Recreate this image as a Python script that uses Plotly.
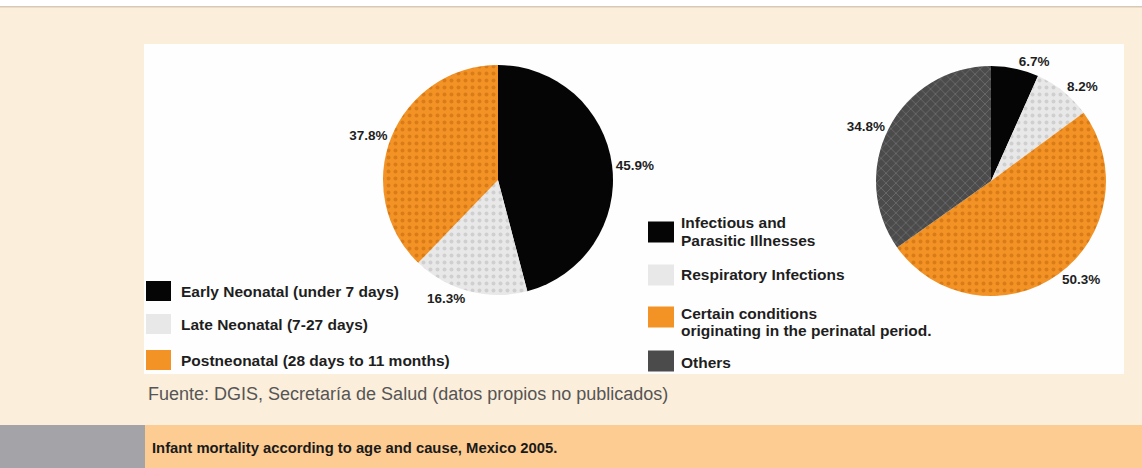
import plotly.graph_objects as go

W, H = 1142, 468

# ---------------- data ----------------
age_labels = ["Early Neonatal (under 7 days)", "Late Neonatal (7-27 days)",
              "Postneonatal (28 days to 11 months)"]
age_values = [45.9, 16.3, 37.8]

cause_labels = ["Infectious and<br>Parasitic Illnesses", "Respiratory Infections",
                "Certain conditions<br>originating in the perinatal period.", "Others"]
cause_values = [6.7, 8.2, 50.3, 34.8]

title_text = "Infant mortality according to age and cause, Mexico 2005."
source_text = "Fuente: DGIS, Secretaría de Salud (datos propios no publicados)"

# ---------------- styles ----------------
BLACK = "#050505"
LIGHT = "#E8E8E8"
ORANGE = "#F39325"
DARK = "#4B4B4B"

age_colors = [BLACK, LIGHT, ORANGE]
age_fg = [BLACK, "#CFCFCF", "#D97C17"]
age_shape = ["", ".", "."]

cause_colors = [BLACK, LIGHT, ORANGE, DARK]
cause_fg = [BLACK, "#CFCFCF", "#D97C17", "#6A6A6A"]
cause_shape = ["", ".", ".", "x"]

FONT = "Liberation Sans, Arial, sans-serif"
TXT = "#1E1E1E"


def px(x):
    return x / W


def py(y):
    return 1 - y / H


def dom(cx, cy, r):
    return dict(x=[px(cx - r), px(cx + r)], y=[py(cy + r), py(cy - r)])


fig = go.Figure()

fig.add_trace(go.Pie(
    labels=age_labels, values=age_values, sort=False, direction="clockwise",
    rotation=0, domain=dom(498, 180, 115),
    marker=dict(colors=age_colors, line=dict(width=0),
                pattern=dict(shape=age_shape, fgcolor=age_fg, bgcolor=age_colors,
                             size=7, solidity=0.25)),
    texttemplate="<b>%{value:.1f}%</b>", textposition="outside",
    textfont=dict(family=FONT, size=13.5, color=TXT),
    showlegend=False, hoverinfo="label+percent",
))

fig.add_trace(go.Pie(
    labels=cause_labels, values=cause_values, sort=False, direction="clockwise",
    rotation=0, domain=dom(991, 181, 115),
    marker=dict(colors=cause_colors, line=dict(width=0),
                pattern=dict(shape=cause_shape, fgcolor=cause_fg, bgcolor=cause_colors,
                             size=7, solidity=0.25)),
    texttemplate="<b>%{value:.1f}%</b>", textposition="outside",
    textfont=dict(family=FONT, size=13.5, color=TXT),
    showlegend=False, hoverinfo="label+percent",
))

shapes = []
annotations = []


def rect(x0, y0, x1, y1, color, layer="below"):
    shapes.append(dict(type="rect", xref="paper", yref="paper",
                       x0=px(x0), x1=px(x1), y0=py(y1), y1=py(y0),
                       fillcolor=color, line=dict(width=0), layer=layer))


def legend_text(x, yc, label, size=15.5, lh=17.5):
    lines = label.split("<br>")
    n = len(lines)
    for i, ln in enumerate(lines):
        y = yc + (i - (n - 1) / 2) * lh
        annotations.append(dict(x=px(x), y=py(y), xref="paper", yref="paper",
                                text="<b>%s</b>" % ln, showarrow=False,
                                xanchor="left", yanchor="middle", align="left",
                                font=dict(family=FONT, size=size, color=TXT)))


# background pieces
rect(0, 0, W, 6, "#FFFFFF")
rect(0, 6, W, 7.5, "#D8C9B6")
rect(144, 44, 1124, 374, "#FEFEFE")
rect(0, 425, 145, H, "#A4A4A8")
rect(145, 425, W, H, "#FDCC92")

# left legend
left_rows = [291, 324, 360]
for lab, col, yc in zip(age_labels, age_colors, left_rows):
    rect(146, yc - 10, 171, yc + 10, col, layer="above")
    legend_text(179, yc, lab)

# right legend
right_sq = [232, 275, 317, 361]
right_txt = [231.5, 274, 322, 362]
for lab, col, ys, yt in zip(cause_labels, cause_colors, right_sq, right_txt):
    rect(648, ys - 10.5, 674, ys + 10.5, col, layer="above")
    legend_text(679, yt, lab)

annotations.append(dict(x=px(146), y=py(394), xref="paper", yref="paper",
                        text=source_text, showarrow=False, xanchor="left",
                        yanchor="middle",
                        font=dict(family=FONT, size=18, color="#555555")))
annotations.append(dict(x=px(150), y=py(448), xref="paper", yref="paper",
                        text="<b>%s</b>" % title_text, showarrow=False,
                        xanchor="left", yanchor="middle",
                        font=dict(family=FONT, size=14.8, color="#1A1A1A")))

fig.update_layout(
    width=W, height=H, autosize=False,
    margin=dict(l=0, r=0, t=0, b=0),
    paper_bgcolor="#FBEEDB", plot_bgcolor="#FBEEDB",
    shapes=shapes, annotations=annotations,
    font=dict(family=FONT),
)

fig.write_html("out.html")
